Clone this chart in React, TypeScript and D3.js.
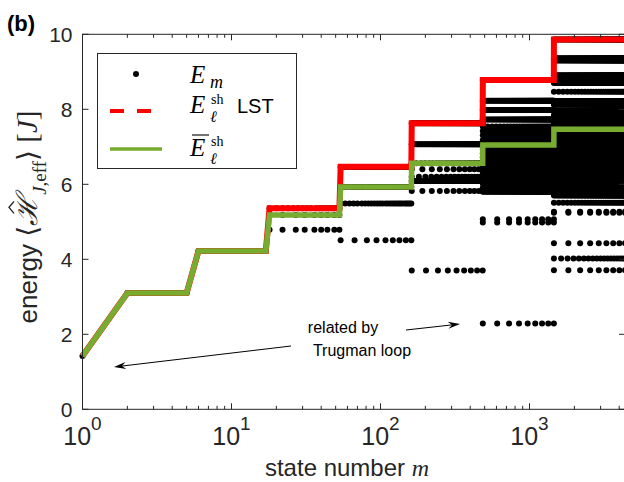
import React, { useRef, useEffect } from "react";
import * as d3 from "d3";

const W = 624;
const H = 482;

// shells of states: first and last state number m
const shellStart = [1, 2, 6, 18, 54, 162, 486, 1458];
const shellEnd = [1, 5, 17, 53, 161, 485, 1457, 4374];

// shell energies (LST, red) and shell mean (green)
const lstEnergy = [1.42, 3.1, 4.22, 5.36, 6.47, 7.63, 8.78, 9.86];
const meanEnergy = [1.42, 3.1, 4.22, 5.18, 5.93, 6.56, 7.05, 7.47];

// eigenenergies E_m inside each shell: [energy, number of states]
const levels1 = [[1.42, 1]];
const levels2 = [[3.1, 4]];
const levels3 = [[4.22, 12]];
const levels4 = [[5.36, 18], [5.18, 9], [4.79, 9]];
const levels5 = [[6.46, 36], [5.93, 36], [5.49, 27], [4.51, 9]];
const levels6 = [
  [7.63, 81], [7.07, 81], [6.56, 27], [6.4, 12], [6.2, 18],
  [6.09, 81], [5.82, 12], [3.7, 9],
];
const levels7 = [
  [8.78, 81], [8.23, 81], [7.98, 81], [7.73, 81], [7.54, 27], [7.42, 81],
  [7.31, 27], [7.18, 81], [7.05, 81], [6.93, 81], [6.83, 81], [6.72, 81],
  [6.62, 81], [6.52, 81], [6.43, 81], [6.32, 81], [6.22, 81], [6.12, 81],
  [6.02, 81], [5.91, 81], [5.8, 81], [5.07, 9], [4.98, 9], [2.29, 9],
];
const levels8 = [
  [9.86, 81], [9.36, 81], [9.3, 81], [8.91, 81], [8.82, 81], [8.7, 81],
  [8.47, 27], [8.22, 81], [8.12, 81], [7.96, 81], [7.85, 81], [7.76, 81],
  [7.62, 81], [7.47, 81], [7.37, 81], [7.27, 81], [7.13, 81], [7.0, 81],
  [6.87, 81], [6.75, 81], [6.6, 81], [6.47, 81], [6.35, 81], [6.22, 81],
  [6.1, 81], [5.98, 81], [5.89, 81], [5.8, 81], [5.7, 81], [5.51, 27],
  [5.27, 9], [5.24, 9], [4.43, 9], [4.02, 18], [3.71, 9],
];
const shellLevels = [levels1, levels2, levels3, levels4, levels5, levels6, levels7, levels8];

const yTicks = [0, 2, 4, 6, 8, 10];
const xDecades = [1, 10, 100, 1000];

const App = () => {
  const ref = useRef(null);

  useEffect(() => {
    const svg = d3.select(ref.current);
    svg.selectAll("*").remove();

    const x = d3.scaleLog().domain([1, 4374]).range([82.5, 625]);
    const y = d3.scaleLinear().domain([0, 10]).range([409.3, 34.3]);
    const axisColor = "#262626";
    const sans = "Liberation Sans, Arial, sans-serif";
    const serif = "Liberation Serif, serif";

    // dots
    const dots = [];
    shellLevels.forEach((lv, i) => {
      const a = shellStart[i];
      const b = shellEnd[i];
      lv.forEach(([e, n]) => {
        d3.range(n).forEach((k) => {
          const m = n === 1 ? a : Math.round(a + (k * (b - a)) / (n - 1));
          dots.push({ m, e });
        });
      });
    });

    svg
      .append("g")
      .selectAll("circle")
      .data(dots)
      .join("circle")
      .attr("cx", (d) => x(d.m))
      .attr("cy", (d) => y(d.e))
      .attr("r", 3)
      .attr("fill", "#000");

    // shell step lines
    const stepPoints = (vals) =>
      vals.flatMap((v, i) => [
        [shellStart[i], v],
        [shellEnd[i], v],
      ]);
    const line = d3
      .line()
      .x((d) => x(d[0]))
      .y((d) => y(d[1]));

    svg
      .append("path")
      .attr("d", line(stepPoints(lstEnergy)))
      .attr("fill", "none")
      .attr("stroke", "#ff0000")
      .attr("stroke-width", 6);

    svg
      .append("path")
      .attr("d", line(stepPoints(meanEnergy)))
      .attr("fill", "none")
      .attr("stroke", "#77ac30")
      .attr("stroke-width", 5.5);

    // axes box
    const box = svg.append("g").attr("stroke", axisColor).attr("stroke-width", 1);
    box
      .append("rect")
      .attr("x", x(1))
      .attr("y", y(10))
      .attr("width", x(4374) - x(1))
      .attr("height", y(0) - y(10))
      .attr("fill", "none");

    yTicks.forEach((t) => {
      box.append("line").attr("x1", x(1)).attr("x2", x(1) + 6).attr("y1", y(t)).attr("y2", y(t));
      box.append("line").attr("x1", x(4374) - 6).attr("x2", x(4374)).attr("y1", y(t)).attr("y2", y(t));
    });

    const minor = [];
    xDecades.forEach((d) => d3.range(2, 10).forEach((k) => d * k < 4374 && minor.push(d * k)));
    minor.forEach((t) => {
      box.append("line").attr("x1", x(t)).attr("x2", x(t)).attr("y1", y(0)).attr("y2", y(0) - 3.5);
      box.append("line").attr("x1", x(t)).attr("x2", x(t)).attr("y1", y(10)).attr("y2", y(10) + 3.5);
    });
    xDecades.forEach((t) => {
      box.append("line").attr("x1", x(t)).attr("x2", x(t)).attr("y1", y(0)).attr("y2", y(0) - 6);
      box.append("line").attr("x1", x(t)).attr("x2", x(t)).attr("y1", y(10)).attr("y2", y(10) + 6);
    });

    // tick labels
    svg
      .append("g")
      .selectAll("text")
      .data(yTicks)
      .join("text")
      .attr("x", x(1) - 10)
      .attr("y", (d) => y(d) + 7.5)
      .attr("text-anchor", "end")
      .attr("font-family", sans)
      .attr("font-size", 21)
      .attr("fill", axisColor)
      .text((d) => d);

    xDecades.forEach((t, i) => {
      const tx = svg
        .append("text")
        .attr("x", x(t))
        .attr("y", 445)
        .attr("text-anchor", "middle")
        .attr("font-family", sans)
        .attr("font-size", 25)
        .attr("fill", axisColor);
      tx.append("tspan").text("10");
      tx.append("tspan").attr("dy", -15).attr("font-size", 19).text(i);
    });

    // axis labels
    const xl = svg
      .append("text")
      .attr("x", 347)
      .attr("y", 476)
      .attr("text-anchor", "middle")
      .attr("font-family", sans)
      .attr("font-size", 24)
      .attr("fill", axisColor);
    xl.append("tspan").text("state number ");
    xl.append("tspan").attr("font-family", serif).attr("font-style", "italic").text("m");

    const ylg = svg.append("g").attr("transform", "translate(37,217) rotate(-90)");
    const yl = ylg
      .append("text")
      .attr("text-anchor", "middle")
      .attr("font-family", sans)
      .attr("font-size", 26)
      .attr("fill", axisColor);
    yl.append("tspan").text("energy ");
    yl.append("tspan").attr("font-family", "DejaVu Serif, serif").attr("font-size", 28).text("\u27E8");
    const hScript = yl
      .append("tspan")
      .attr("font-family", "DejaVu Serif, serif")
      .attr("font-style", "italic")
      .attr("font-size", 29)
      .text("\u210B");
    yl.append("tspan")
      .attr("dy", 9)
      .attr("font-size", 19)
      .attr("font-family", serif)
      .attr("font-style", "italic")
      .text("J");
    yl.append("tspan").attr("font-size", 19).attr("font-family", serif).text(",eff");
    yl.append("tspan").attr("dy", -9).attr("font-family", "DejaVu Serif, serif").attr("font-size", 28).text("\u27E9");
    yl.append("tspan").attr("font-family", serif).attr("font-size", 29).text(" [");
    yl.append("tspan").attr("font-family", serif).attr("font-size", 29).attr("font-style", "italic").text("J");
    yl.append("tspan").attr("font-family", serif).attr("font-size", 29).text("]");

    // hat over the script H
    const textNode = yl.node();
    const nChars = "energy \u27E8".length;
    const p0 = textNode.getStartPositionOfChar(nChars);
    const p1 = textNode.getEndPositionOfChar(nChars);
    const hc = (p0.x + p1.x) / 2 + 3;
    ylg
      .append("path")
      .attr("d", `M${hc - 6},-23 L${hc},-28 L${hc + 6},-23`)
      .attr("fill", "none")
      .attr("stroke", axisColor)
      .attr("stroke-width", 1.4);
    void hScript;

    // panel label
    svg
      .append("text")
      .attr("x", 7)
      .attr("y", 31)
      .attr("font-family", sans)
      .attr("font-weight", "bold")
      .attr("font-size", 22)
      .attr("fill", "#000")
      .text("(b)");

    // annotation
    const ann = svg
      .append("g")
      .attr("font-family", sans)
      .attr("font-size", 16)
      .attr("fill", "#000")
      .attr("text-anchor", "middle");
    ann.append("text").attr("x", 343).attr("y", 333).text("related by");
    ann.append("text").attr("x", 362).attr("y", 356).text("Trugman loop");

    const arrow = (from, tip) => {
      const dx = tip[0] - from[0];
      const dy = tip[1] - from[1];
      const len = Math.hypot(dx, dy);
      const ux = dx / len;
      const uy = dy / len;
      const nx = -uy;
      const ny = ux;
      const hl = 12;
      const hw = 3.5;
      svg
        .append("line")
        .attr("x1", from[0])
        .attr("y1", from[1])
        .attr("x2", tip[0] - ux * 6)
        .attr("y2", tip[1] - uy * 6)
        .attr("stroke", "#000")
        .attr("stroke-width", 1);
      const pts = [
        [tip[0], tip[1]],
        [tip[0] - ux * hl + nx * hw, tip[1] - uy * hl + ny * hw],
        [tip[0] - ux * (hl - 4), tip[1] - uy * (hl - 4)],
        [tip[0] - ux * hl - nx * hw, tip[1] - uy * hl - ny * hw],
      ];
      svg.append("polygon").attr("points", pts.map((p) => p.join(",")).join(" ")).attr("fill", "#000");
    };
    arrow([291, 346], [114, 367]);
    arrow([406, 330], [460, 324]);

    // legend
    const lg = svg.append("g");
    lg.append("rect")
      .attr("x", 97.5)
      .attr("y", 53.5)
      .attr("width", 199)
      .attr("height", 115)
      .attr("fill", "#fff")
      .attr("stroke", axisColor)
      .attr("stroke-width", 1);
    lg.append("circle").attr("cx", 136).attr("cy", 74).attr("r", 3).attr("fill", "#000");
    lg.append("line")
      .attr("x1", 110)
      .attr("x2", 152)
      .attr("y1", 111)
      .attr("y2", 111)
      .attr("stroke", "#ff0000")
      .attr("stroke-width", 4)
      .attr("stroke-dasharray", "14,13");
    lg.append("line")
      .attr("x1", 110)
      .attr("x2", 162)
      .attr("y1", 149)
      .attr("y2", 149)
      .attr("stroke", "#77ac30")
      .attr("stroke-width", 3.5);

    const math = (tx, ty, s, size, italic) =>
      lg
        .append("text")
        .attr("x", tx)
        .attr("y", ty)
        .attr("font-family", serif)
        .attr("font-style", italic ? "italic" : "normal")
        .attr("font-size", size)
        .attr("fill", "#000")
        .text(s);

    math(190, 83, "E", 25, true);
    math(210, 88, "m", 18, true);

    math(190, 113, "E", 25, true);
    math(211, 104, "sh", 14, false);
    math(210, 122, "\u2113", 16, true);
    lg.append("text")
      .attr("x", 237)
      .attr("y", 113)
      .attr("font-family", sans)
      .attr("font-size", 20)
      .attr("fill", "#000")
      .text("LST");

    lg.append("line")
      .attr("x1", 192)
      .attr("x2", 209)
      .attr("y1", 135)
      .attr("y2", 135)
      .attr("stroke", "#000")
      .attr("stroke-width", 1.1);
    math(190, 156, "E", 25, true);
    math(211, 146, "sh", 14, false);
    math(210, 164, "\u2113", 16, true);

    return () => {
      d3.select(ref.current).selectAll("*").remove();
    };
  }, []);

  return (
    <svg
      ref={ref}
      width={W}
      height={H}
      style={{ position: "absolute", left: 0, top: 0, background: "#fff" }}
    ></svg>
  );
};

export default App;
